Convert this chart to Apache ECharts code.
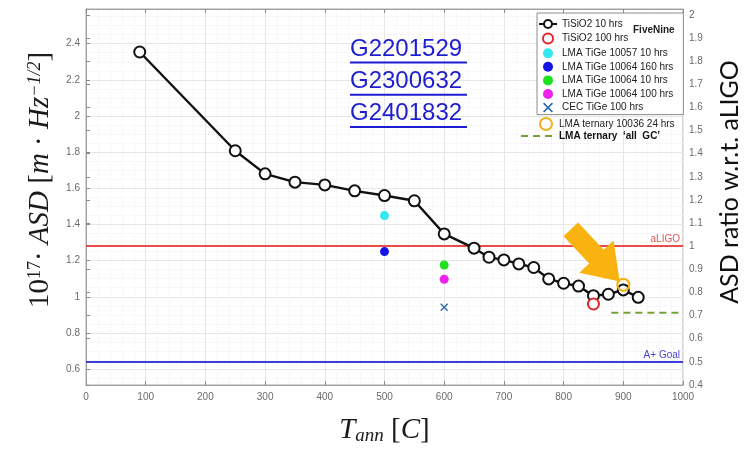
<!DOCTYPE html>
<html>
<head>
<meta charset="utf-8">
<script src="https://cdn.jsdelivr.net/npm/echarts@6/dist/echarts.min.js"></script>
<style>
  html, body { margin: 0; padding: 0; background: #fff; }
  #chart { width: 746px; height: 449px; }
</style>
</head>
<body>
<div id="chart"></div>
<script>
// Annealing temperature [C] vs. coating ASD (units of 1e-17 m/sqrt(Hz))
const tisio2Temp = [90, 250, 300, 350, 400, 450, 500, 550, 600, 650, 675, 700, 725, 750, 775, 800, 825, 850, 875, 900, 925];
const tisio2Asd  = [2.354, 1.808, 1.68, 1.634, 1.619, 1.586, 1.56, 1.531, 1.348, 1.269, 1.219, 1.204, 1.182, 1.162, 1.099, 1.075, 1.059, 1.006, 1.014, 1.038, 0.997];

const tisio2Long    = [[850, 0.960]];   // TiSiO2 100 hrs
const tige10057     = [[500, 1.449]];   // LMA TiGe 10057 10 hrs
const tige10064_160 = [[500, 1.250]];   // LMA TiGe 10064 160 hrs
const tige10064_10  = [[600, 1.176]];   // LMA TiGe 10064 10 hrs
const tige10064_100 = [[600, 1.097]];   // LMA TiGe 10064 100 hrs
const cecTige       = [[600, 0.942]];   // CEC TiGe 100 hrs
const ternary24     = [[900, 1.066]];   // LMA ternary 10036 24 hrs
const ternaryAllGC  = [[880, 0.912], [1000, 0.912]];

// Reference levels
const aligoLevel = 1.28;
const aplusLevel = 0.64;

// Axis ticks
const xTicks = [0, 100, 200, 300, 400, 500, 600, 700, 800, 900, 1000];
const leftTicks = [0.6, 0.8, 1.0, 1.2, 1.4, 1.6, 1.8, 2.0, 2.2, 2.4];
const rightTicks = [0.4, 0.5, 0.6, 0.7, 0.8, 0.9, 1.0, 1.1, 1.2, 1.3, 1.4, 1.5, 1.6, 1.7, 1.8, 1.9, 2.0];

// Document references
const docRefs = ['G2201529', 'G2300632', 'G2401832'];

const seriesNames = [
  'TiSiO2 10 hrs', 'TiSiO2 100 hrs', 'LMA TiGe 10057 10 hrs', 'LMA TiGe 10064 160 hrs',
  'LMA TiGe 10064 10 hrs', 'LMA TiGe 10064 100 hrs', 'CEC TiGe 100 hrs',
  'LMA ternary 10036 24 hrs', 'LMA ternary  \u2018all  GC\u2019'
];

// ratio axis = ASD / aLIGO level
const leftMin = rightTicks[0] * aligoLevel;
const rightMax = 2.025;
const leftMax = rightMax * aligoLevel;

// faint minor grid every 0.05 on the ASD axis
const minorY = [];
for (let k = 11; k <= 51; k++) {
  const v = +(k * 0.05).toFixed(2);
  if (Math.abs(v / 0.2 - Math.round(v / 0.2)) > 1e-6) minorY.push(v);
}

const FONT = 'Liberation Sans';
const SERIF = 'Liberation Serif';
const xCross = 'path://M0,1.2L1.2,0L5,3.8L8.8,0L10,1.2L6.2,5L10,8.8L8.8,10L5,6.2L1.2,10L0,8.8L3.8,5Z';

const chart = echarts.init(document.getElementById('chart'));

const serifRich = {
  a: { fontFamily: SERIF, fontSize: 29, color: '#1b1b1b', lineHeight: 29, verticalAlign: 'bottom' },
  i: { fontFamily: SERIF, fontSize: 29, fontStyle: 'italic', color: '#1b1b1b', lineHeight: 29, verticalAlign: 'bottom' },
  s: { fontFamily: SERIF, fontSize: 18, color: '#1b1b1b', lineHeight: 18, verticalAlign: 'top' },
  si: { fontFamily: SERIF, fontSize: 18, fontStyle: 'italic', color: '#1b1b1b', lineHeight: 18, verticalAlign: 'top' }
};
const subRich = {
  i: { fontFamily: SERIF, fontSize: 29, fontStyle: 'italic', color: '#1b1b1b', lineHeight: 29, verticalAlign: 'top' },
  a: { fontFamily: SERIF, fontSize: 29, color: '#1b1b1b', lineHeight: 29, verticalAlign: 'top' },
  b: { fontFamily: SERIF, fontSize: 19, fontStyle: 'italic', color: '#1b1b1b', lineHeight: 19, verticalAlign: 'bottom' }
};

const scatterBase = { type: 'scatter', z: 6, symbol: 'circle', symbolSize: 9 };

const option = {
  backgroundColor: '#fff',
  animation: false,
  textStyle: { fontFamily: FONT },
  grid: {
    left: 86, right: 63, top: 9, bottom: 64, outerBoundsMode: 'none', containLabel: false,
    show: true, borderColor: '#a8a8a8', borderWidth: 1, backgroundColor: '#fff'
  },
  xAxis: [
    {
      type: 'value', min: xTicks[0], max: xTicks[xTicks.length - 1], interval: 100, position: 'bottom',
      name: '{i|T}{b|ann}{a| [}{i|C}{a|]}', nameLocation: 'middle', nameGap: 31,
      nameTextStyle: { rich: subRich, lineHeight: 35 },
      axisLine: { show: true, lineStyle: { color: '#a0a0a0' } },
      axisTick: { show: true, inside: true, length: 4, lineStyle: { color: '#8a8a8a' } },
      axisLabel: { color: '#6a6a6a', fontSize: 10, margin: 7, fontFamily: FONT, formatter: v => String(v) },
      splitLine: { show: true, lineStyle: { color: '#e6e6e6', width: 1 } },
      minorTick: { show: false, splitNumber: 5 },
      minorSplitLine: { show: true, lineStyle: { color: '#f1f1f1', width: 1, type: 'dotted' } }
    },
    {
      type: 'value', min: xTicks[0], max: xTicks[xTicks.length - 1], interval: 100, position: 'top',
      axisLine: { show: true, lineStyle: { color: '#a0a0a0' } },
      axisTick: { show: true, inside: true, length: 4, lineStyle: { color: '#8a8a8a' } },
      axisLabel: { show: false }, splitLine: { show: false }
    }
  ],
  yAxis: [
    {
      type: 'value', min: leftMin, max: leftMax, position: 'left',
      name: '{a|10}{s|17}{a|\u00b7 }{i|ASD}{a| [}{i|m}{a| \u00b7 }{i|Hz}{si|\u22121/2}{a|]}',
      nameLocation: 'middle', nameRotate: 90, nameGap: 31,
      nameTextStyle: { rich: serifRich, lineHeight: 35, padding: [0, 0, 0, 34] },
      axisLine: { show: true, lineStyle: { color: '#a0a0a0' } },
      axisTick: { show: true, inside: true, length: 4, customValues: leftTicks, lineStyle: { color: '#8a8a8a' } },
      axisLabel: { color: '#6a6a6a', fontSize: 10, margin: 6, customValues: leftTicks, fontFamily: FONT,
                   formatter: v => String(+v.toFixed(1)) },
      splitLine: { show: true, lineStyle: { color: '#e6e6e6', width: 1 } }
    },
    {
      type: 'value', min: rightTicks[0], max: rightMax, interval: 0.1, position: 'right',
      name: 'ASD ratio w.r.t. aLIGO', nameLocation: 'middle', nameRotate: 90, nameGap: 34,
      nameTextStyle: { fontFamily: 'Lato', fontSize: 25, color: '#111', padding: [0, 0, 0, 30] },
      axisLine: { show: true, lineStyle: { color: '#a0a0a0' } },
      axisTick: { show: true, inside: false, length: 4, lineStyle: { color: '#8a8a8a' } },
      axisLabel: { color: '#6a6a6a', fontSize: 10, margin: 6, fontFamily: FONT,
                   formatter: v => String(+v.toFixed(1)) },
      splitLine: { show: false }
    },
    {
      type: 'value', min: leftMin, max: leftMax, position: 'left',
      axisLine: { show: false }, axisLabel: { show: false },
      axisTick: { show: false, customValues: minorY },
      splitLine: { show: true, lineStyle: { color: '#f1f1f1', width: 1, type: 'dotted' } }
    }
  ],
  legend: [
    {
      data: seriesNames.slice(0, 7), orient: 'vertical', left: 537, top: 13,
      padding: [6, 10, 2, 1], itemGap: 3.6, itemWidth: 18, itemHeight: 10,
      backgroundColor: '#fff', borderColor: '#8c8c8c', borderWidth: 1, borderRadius: 0,
      selectedMode: false,
      textStyle: { fontFamily: FONT, fontSize: 10, color: '#222', lineHeight: 10 }
    },
    {
      data: [seriesNames[7]], orient: 'vertical', left: 539, top: 117,
      padding: 0, itemWidth: 16, itemHeight: 12, selectedMode: false,
      textStyle: { fontFamily: FONT, fontSize: 10, color: '#222', lineHeight: 12 }
    },
    {
      data: [{ name: seriesNames[8], itemStyle: { color: 'rgba(0,0,0,0)', borderWidth: 0, opacity: 0 } }],
      orient: 'vertical', left: 520, top: 131,
      padding: 0, itemWidth: 33, itemHeight: 10, selectedMode: false,
      textStyle: { fontFamily: FONT, fontSize: 10, color: '#111', fontWeight: 'bold', lineHeight: 10 }
    }
  ],
  series: [
    {
      name: 'refLevels', type: 'line', data: [], silent: true, z: 1,
      markLine: {
        silent: true, symbol: 'none', z: 1, animation: false,
        data: [
          { yAxis: aligoLevel, lineStyle: { color: '#ea4b4b', width: 2, type: 'solid' },
            label: { show: true, formatter: 'aLIGO', position: 'insideEndTop', color: '#e25555', fontSize: 10, fontFamily: FONT, distance: [3, 2] } },
          { yAxis: aplusLevel, lineStyle: { color: '#3e3ed8', width: 2, type: 'solid' },
            label: { show: true, formatter: 'A+ Goal', position: 'insideEndTop', color: '#4646d0', fontSize: 10, fontFamily: FONT, distance: [3, 2] } }
        ]
      }
    },
    {
      name: seriesNames[0], type: 'line', z: 5,
      data: tisio2Temp.map((t, i) => [t, tisio2Asd[i]]),
      symbol: 'emptyCircle', symbolSize: 11,
      lineStyle: { color: '#111', width: 2.4 },
      itemStyle: { color: '#111', borderColor: '#111', borderWidth: 2.2 }
    },
    Object.assign({}, scatterBase, {
      name: seriesNames[1], data: tisio2Long, symbol: 'emptyCircle', symbolSize: 11,
      itemStyle: { color: '#e42626', borderColor: '#e42626', borderWidth: 2.2, opacity: 1 }
    }),
    Object.assign({}, scatterBase, {
      name: seriesNames[2], data: tige10057, itemStyle: { color: '#33e8f0', opacity: 1 }
    }),
    Object.assign({}, scatterBase, {
      name: seriesNames[3], data: tige10064_160, itemStyle: { color: '#1414e6', opacity: 1 }
    }),
    Object.assign({}, scatterBase, {
      name: seriesNames[4], data: tige10064_10, itemStyle: { color: '#1fe01f', opacity: 1 }
    }),
    Object.assign({}, scatterBase, {
      name: seriesNames[5], data: tige10064_100, itemStyle: { color: '#ee22ee', opacity: 1 }
    }),
    Object.assign({}, scatterBase, {
      name: seriesNames[6], data: cecTige, symbol: xCross, symbolSize: 8,
      itemStyle: { color: '#2a6ab2', opacity: 1 }
    }),
    Object.assign({}, scatterBase, {
      name: seriesNames[7], data: ternary24, z: 7, symbolSize: 12,
      itemStyle: { color: 'rgba(255,255,255,0)', borderColor: '#f2b21c', borderWidth: 2.2, opacity: 1 }
    }),
    {
      name: seriesNames[8], type: 'line', z: 4, data: ternaryAllGC,
      symbol: 'none', lineStyle: { color: '#74a236', width: 2, type: [7, 5] },
      itemStyle: { color: '#74a236' }
    }
  ],
  graphic: []
};

// document reference links
docRefs.forEach((ref, i) => {
  const cy = 51 + i * 32.3;
  option.graphic.push({
    type: 'text', left: 350, top: cy - 14, z: 20,
    style: { text: ref, fontFamily: FONT, fontSize: 24, fill: '#1d1dd2' }
  });
  option.graphic.push({
    type: 'rect', shape: { x: 350, y: cy + 10.5, width: 117, height: 2 }, z: 20,
    style: { fill: '#1d1dd2' }
  });
});
// supplier tag inside the legend box
option.graphic.push({
  type: 'text', left: 633, top: 25, z: 30,
  style: { text: 'FiveNine', fontFamily: FONT, fontSize: 10, fontWeight: 'bold', fill: '#222' }
});

chart.setOption(option);

// highlight arrow pointing at the ternary 24 hrs sample
const arrowTail = [812, 1.373];
const arrowTip = [894, 1.085];
const T = chart.convertToPixel({ xAxisIndex: 0, yAxisIndex: 0 }, arrowTail);
const P = chart.convertToPixel({ xAxisIndex: 0, yAxisIndex: 0 }, arrowTip);
const dx = P[0] - T[0], dy = P[1] - T[1];
const len = Math.hypot(dx, dy);
const ux = dx / len, uy = dy / len, nx = -uy, ny = ux;
const headLen = 34, shaftHalf = 10, headHalf = 23.5;
const B = [P[0] - ux * headLen, P[1] - uy * headLen];
const pts = [
  [T[0] + nx * shaftHalf, T[1] + ny * shaftHalf],
  [B[0] + nx * shaftHalf, B[1] + ny * shaftHalf],
  [B[0] + nx * headHalf, B[1] + ny * headHalf],
  P,
  [B[0] - nx * headHalf, B[1] - ny * headHalf],
  [B[0] - nx * shaftHalf, B[1] - ny * shaftHalf],
  [T[0] - nx * shaftHalf, T[1] - ny * shaftHalf]
];
option.graphic.push({
  type: 'polygon', z: 40, shape: { points: pts },
  style: { fill: '#f9b310' }
});
chart.setOption({ graphic: option.graphic });
</script>
</body>
</html>
